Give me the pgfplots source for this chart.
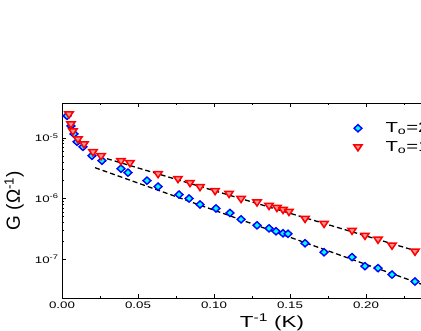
\documentclass[border=0pt]{standalone}
\usepackage{fontspec}
\setmainfont{Liberation Sans}[FakeStretch=1.4]
\newfontfamily\ylabfont{Liberation Sans}
\usepackage{pgfplots}
\pgfplotsset{compat=1.18}
\definecolor{mkblue}{RGB}{0,0,255}
\definecolor{mkcyan}{RGB}{0,255,255}
\definecolor{mkred}{RGB}{255,0,0}
\definecolor{mkpink}{RGB}{255,150,150}
\pgfplotsset{widelegend/.style={legend image code/.code={%
  \path[draw=none,fill=none] (0cm,0cm) -- (1.3cm,0cm);
  \path[mark repeat=2,mark phase=2,##1,only marks] plot coordinates {(0cm,0cm) (0.4cm,0cm) (1.3cm,0cm)};}}}

\begin{document}
\begin{tikzpicture}
\useasboundingbox (0,0) rectangle (421pt,330pt);
\clip (0,0) rectangle (421pt,330pt);
\begin{axis}[
  at={(62pt,32pt)}, anchor=south west,
  scale only axis, width=420pt, height=195pt,
  ymode=log,
  xmin=0, xmax=0.2763,
  ymin=2.29e-8, ymax=3.75e-5,
  axis line style={line width=0.8pt},
  xtick={0,0.05,0.10,0.15,0.20,0.25},
  minor x tick num=1,
  ytick={1e-7,1e-6,1e-5},
  yticklabels={10\textsuperscript{-7},10\textsuperscript{-6},10\textsuperscript{-5}},
  xticklabel style={/pgf/number format/.cd,fixed,fixed zerofill,precision=2,assume math mode=true},
  tick label style={font=\fontsize{9.5}{11}\selectfont},
  major tick length=4pt, minor tick length=2.5pt,
  tick style={line width=0.6pt, black},
  xlabel={T\textsuperscript{-1} (K)},
  xlabel style={font=\fontsize{16}{18}\selectfont, at={(axis description cs:0.5,-0.123)}, anchor=center},
  ylabel={G (Ω\textsuperscript{-1})},
  ylabel style={font=\fontsize{19}{21}\selectfont\ylabfont, at={(axis description cs:-0.114,0.5)}, anchor=center},
  legend style={at={(axis description cs:0.670,0.823)}, anchor=west, draw=none, fill=none,
    font=\fontsize{14.5}{16}\selectfont, row sep=3pt},
  legend cell align=left,
]
% T_o = 2.. series (blue diamonds)
\addplot[only marks, mark=diamond*, mark size=3.6pt,
  mark options={xscale=1.45, draw=mkblue, fill=mkcyan, line width=1.4pt}, widelegend]
  coordinates {
  (0.0033,2.30e-5) (0.0059,1.57e-5) (0.0079,1.16e-5) (0.0099,8.6e-6)
  (0.0138,7.1e-6) (0.0197,5.07e-6) (0.0263,4.2e-6) (0.0388,3.10e-6)
  (0.0434,2.67e-6) (0.0559,1.97e-6) (0.0632,1.57e-6) (0.0770,1.16e-6)
  (0.0836,1.0e-6) (0.0908,7.97e-7) (0.1013,6.86e-7) (0.1105,5.78e-7)
  (0.1178,4.53e-7) (0.1283,3.61e-7) (0.1362,3.22e-7) (0.1408,2.88e-7)
  (0.1454,2.67e-7) (0.1487,2.62e-7) (0.1599,1.83e-7) (0.1724,1.30e-7)
  (0.1908,1.08e-7) (0.1993,7.67e-8) (0.2079,7.11e-8) (0.2171,5.57e-8)
  (0.2322,4.28e-8)};
\addlegendentry{T\textsubscript{o}=25 K}
% T_o = 1.. series (red triangles)
\addplot[only marks, mark=triangle*, mark size=4.8pt,
  mark options={rotate=180, yscale=0.85, draw=mkred, fill=mkpink, line width=1.5pt}, widelegend]
  coordinates {
  (0.0046,2.47e-5) (0.0059,1.70e-5) (0.0072,1.30e-5) (0.0105,9.6e-6)
  (0.0145,7.97e-6) (0.0204,5.89e-6) (0.0257,5.07e-6) (0.0388,4.20e-6)
  (0.0447,3.89e-6) (0.0632,2.57e-6) (0.0763,2.13e-6) (0.0842,1.83e-6)
  (0.0908,1.57e-6) (0.1007,1.35e-6) (0.1099,1.21e-6) (0.1178,1.0e-6)
  (0.1283,8.77e-7) (0.1362,7.67e-7) (0.1414,7.11e-7) (0.1454,6.60e-7)
  (0.1493,6.12e-7) (0.1599,4.70e-7) (0.1724,3.89e-7) (0.1908,2.99e-7)
  (0.1993,2.47e-7) (0.2079,2.13e-7) (0.2171,1.70e-7) (0.2322,1.35e-7)};
\addlegendentry{T\textsubscript{o}=15 K}
% fits
\addplot[forget plot, black, line width=1.3pt, dash pattern=on 5pt off 3pt]
  coordinates {(0.0296,4.53e-6) (0.25,1.02e-7)};
\addplot[forget plot, black, line width=1.3pt, dash pattern=on 5pt off 3pt]
  coordinates {(0.0217,3.22e-6) (0.25,2.93e-8)};
\end{axis}
\end{tikzpicture}
\end{document}
